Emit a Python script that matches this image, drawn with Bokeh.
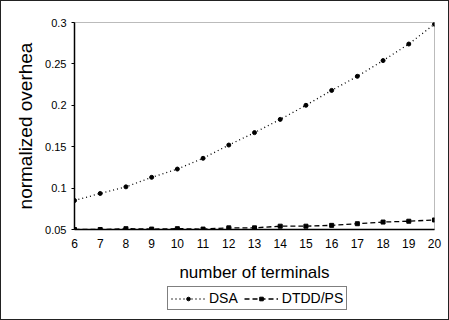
from bokeh.plotting import figure
from bokeh.layouts import column
from bokeh.models import Range1d, FixedTicker, Legend, LegendItem
from bokeh.embed import file_html
from bokeh.resources import INLINE

terminals = [6, 7, 8, 9, 10, 11, 12, 13, 14, 15, 16, 17, 18, 19, 20]
dsa = [0.085, 0.0935, 0.1015, 0.113, 0.123, 0.136, 0.152, 0.167, 0.183,
       0.200, 0.218, 0.235, 0.254, 0.274, 0.298]
dtdd = [0.050, 0.050, 0.051, 0.0505, 0.051, 0.0505, 0.052, 0.052, 0.054,
        0.054, 0.055, 0.057, 0.059, 0.060, 0.0615]
y_ticks = [0.05, 0.1, 0.15, 0.2, 0.25, 0.3]
y_tick_labels = ["0.05", "0.1", "0.15", "0.2", "0.25", "0.3"]
series_names = ["DSA", "DTDD/PS"]

FONT = "Liberation Sans"
W = 447

p = figure(width=W, height=283, output_backend="svg", toolbar_location=None,
           x_range=Range1d(6, 20), y_range=Range1d(0.05, 0.3),
           min_border_left=73, min_border_top=21, min_border_right=14,
           min_border_bottom=54)

p.xgrid.visible = False
p.ygrid.visible = False
p.outline_line_color = "#777777"
p.outline_line_dash = "1 1"
p.outline_line_width = 1

for ax in (p.xaxis, p.yaxis):
    ax.axis_line_color = "black"
    ax.axis_line_width = 1.5
    ax.major_tick_line_color = "black"
    ax.minor_tick_line_color = None
    ax.major_tick_in = 0
    ax.major_label_text_font = FONT
    ax.major_label_text_color = "black"
    ax.axis_label_text_font = FONT
    ax.axis_label_text_font_style = "normal"
    ax.axis_label_text_color = "black"

p.xaxis.ticker = FixedTicker(ticks=terminals)
p.xaxis.major_tick_out = 0
p.xaxis.major_label_text_font_size = "12px"
p.xaxis.major_label_standoff = 9
p.xaxis.axis_label = "number of terminals"
p.xaxis.axis_label_text_font_size = "17px"
p.xaxis.axis_label_standoff = 12

p.yaxis.ticker = FixedTicker(ticks=y_ticks)
p.yaxis.major_tick_out = 3
p.yaxis.major_label_overrides = {t: l for t, l in zip(y_ticks, y_tick_labels)}
p.yaxis.major_label_text_font_size = "11px"
p.yaxis.major_label_standoff = 5
p.yaxis.axis_label = "normalized overhea"
p.yaxis.axis_label_text_font_size = "19px"
p.yaxis.axis_label_standoff = 6

DSA_LINE = dict(line_color="black", line_dash="1 3", line_width=1.3)
DT_LINE = dict(line_color="black", line_dash="5 3", line_width=1.3)

p.line(terminals, dsa, **DSA_LINE)
p.scatter(terminals, dsa, marker="circle", size=4, color="black")
p.line(terminals, dtdd, **DT_LINE)
p.scatter(terminals, dtdd, marker="square", size=4, color="black")

# legend strip below the chart (its series lie outside this strip's ranges,
# so only the legend itself is visible)
p2 = figure(width=W, height=35, output_backend="svg", toolbar_location=None,
            x_axis_location=None, y_axis_location=None,
            x_range=Range1d(-2, -1), y_range=Range1d(-2, -1),
            min_border=0, outline_line_color=None)
p2.xgrid.visible = False
p2.ygrid.visible = False
e1 = p2.line(terminals, dsa, **DSA_LINE)
e1m = p2.scatter(terminals, dsa, marker="circle", size=4, color="black")
e2 = p2.line(terminals, dtdd, **DT_LINE)
e2m = p2.scatter(terminals, dtdd, marker="square", size=4, color="black")

legend = Legend(items=[LegendItem(label=series_names[0], renderers=[e1, e1m]),
                       LegendItem(label=series_names[1], renderers=[e2, e2m])],
                orientation="horizontal", location=(93, 9),
                border_line_color="black", border_line_width=1,
                label_text_font=FONT, label_text_font_size="14px",
                label_text_color="black", glyph_width=34, glyph_height=9,
                label_standoff=4, spacing=6, padding=3, margin=0,
                label_height=14)
p2.add_layout(legend)

layout = column(p, p2, spacing=0,
                styles={"border": "1px solid #222"})

open("out.html", "w").write(file_html(layout, INLINE))
